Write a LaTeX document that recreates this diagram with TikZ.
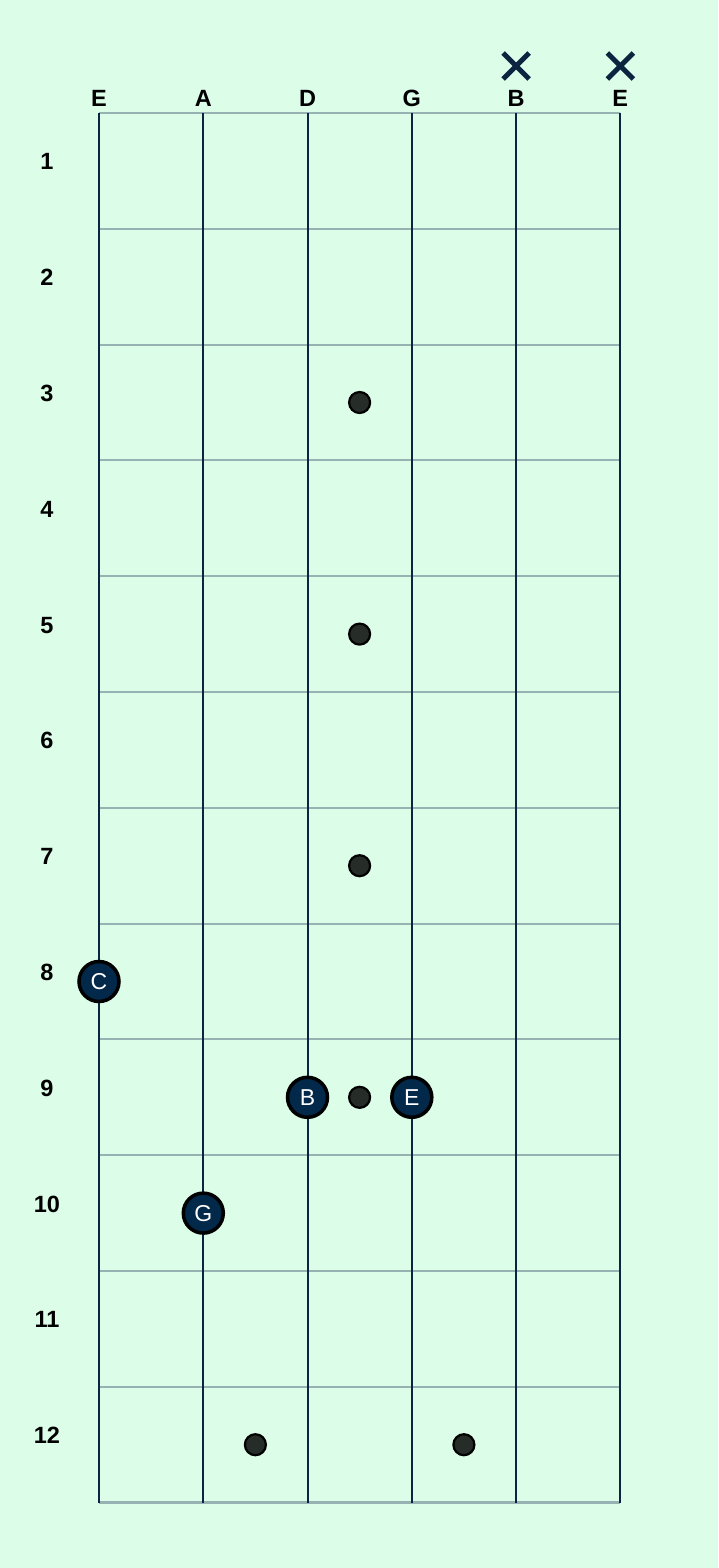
\documentclass[tikz,border=0pt]{standalone}
\usepackage{fontspec}
\setmainfont{Liberation Sans}
\usepackage{xcolor}
\usepackage{tikz}
\usetikzlibrary{positioning}
\definecolor{mint}{RGB}{220,253,232}
\definecolor{bundgrau}{RGB}{150,178,178}
\definecolor{saitenblau}{RGB}{12,36,64}
\definecolor{tonblau}{RGB}{2,40,74}
\definecolor{punktgrau}{RGB}{38,44,40}
\tikzset{
    ton/.style    = {circle, draw=black, line width=3.5pt, fill=tonblau, text=white,
                     minimum size=40pt, inner sep=0pt, font=\fontsize{23}{23}\selectfont},
    marke/.style  = {circle, draw=black, line width=2.2pt, fill=punktgrau,
                     minimum size=21pt, inner sep=0pt},
    beschr/.style = {font=\bfseries\fontsize{23.5}{23.5}\selectfont, anchor=base, inner sep=0pt}
}
\begin{document}
\begin{tikzpicture}[x=1pt, y=-1pt,
        saite/.style = {draw=saitenblau, line width=2pt},
        bund/.style  = {draw=bundgrau, line width=2pt},
        leer/.style  = {draw=saitenblau, line width=5pt}]

        % Hintergrund
        \fill[mint] (0,0) rectangle (718,1568);
        \useasboundingbox (0,0) rectangle (718,1568);

        % Buende
        \foreach \b in {0,...,11} \draw[bund] (99,113+\b*115.8) -- (620.3,113+\b*115.8);
        \draw[bund, line width=3pt] (99,1502.6) -- (620.3,1502.6);

        % Saiten mit Namen
        \foreach \s/\n [count=\i] in {0/E,1/A,2/D,3/G,4/B,5/E} {
            \draw[saite] (99+\s*104.26,113) -- (99+\s*104.26,1502.6);
            \node[beschr] (s\i) at (99+\s*104.26,107) {\n};
        }

        % Bundnummern
        \foreach \b in {1,...,12}
            \node[beschr] (f\b) at (47,113+\b*115.8-58.9) {\b};

        % nicht gespielt
        \foreach \s in {4,5} {
            \draw[leer] (99+\s*104.26-13,53) -- (99+\s*104.26+13,79);
            \draw[leer] (99+\s*104.26-13,79) -- (99+\s*104.26+13,53);
        }

        % Bundmarken
        \foreach \b in {3,5,7,9}
            \node[marke] (m\b) at (359.6,113+\b*115.8-57.9) {};
        \node[marke] (m12a) at (255.4,1444.7) {};
        \node[marke] (m12b) at (463.9,1444.7) {};

        % gegriffene Toene
        \node[ton] (tC) at (99,981.5)     {C};
        \node[ton] (tB) at (307.5,1097.3) {B};
        \node[ton] (tE) at (411.8,1097.3) {E};
        \node[ton] (tG) at (203.3,1213.1) {G};
    \end{tikzpicture}
\end{document}
